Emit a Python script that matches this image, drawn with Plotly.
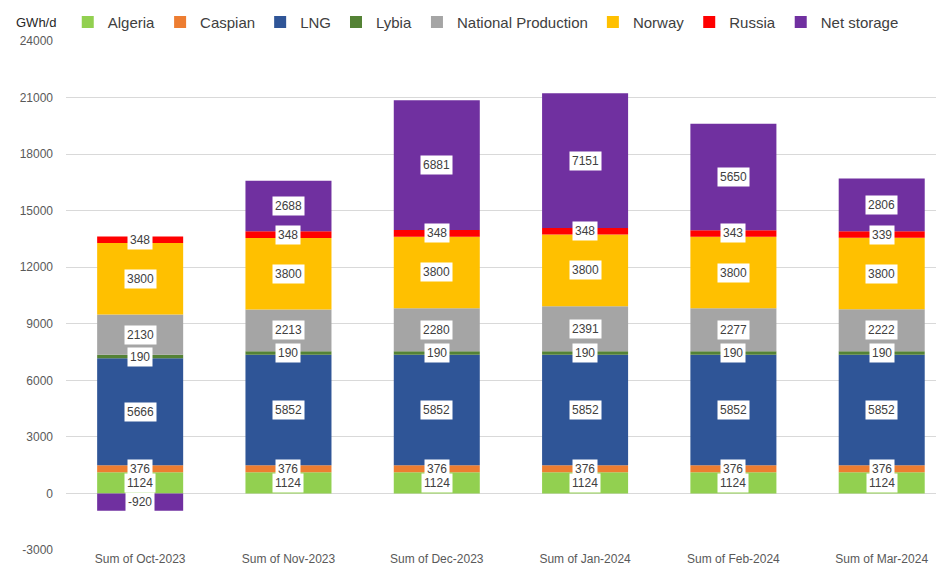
import plotly.graph_objects as go

# ── data ────────────────────────────────────────────────
months = ["Sum of Oct-2023", "Sum of Nov-2023", "Sum of Dec-2023",
          "Sum of Jan-2024", "Sum of Feb-2024", "Sum of Mar-2024"]

algeria = [1124, 1124, 1124, 1124, 1124, 1124]
caspian = [376, 376, 376, 376, 376, 376]
lng = [5666, 5852, 5852, 5852, 5852, 5852]
lybia = [190, 190, 190, 190, 190, 190]
national = [2130, 2213, 2280, 2391, 2277, 2222]
norway = [3800, 3800, 3800, 3800, 3800, 3800]
russia = [348, 348, 348, 348, 343, 339]
net_storage = [-920, 2688, 6881, 7151, 5650, 2806]

y_ticks = [-3000, 0, 3000, 6000, 9000, 12000, 15000, 18000, 21000, 24000]

series = [
    ("Algeria", algeria, "#92D050"),
    ("Caspian", caspian, "#ED7D31"),
    ("LNG", lng, "#2F5597"),
    ("Lybia", lybia, "#548235"),
    ("National Production", national, "#A5A5A5"),
    ("Norway", norway, "#FFC000"),
    ("Russia", russia, "#FF0000"),
    ("Net storage", net_storage, "#7030A0"),
]

FONT = "Liberation Sans, Arial, sans-serif"
TEXT = "#404040"
TICK = "#595959"

fig = go.Figure()
for name, vals, color in series:
    fig.add_trace(go.Bar(x=months, y=vals, name=name, marker=dict(color=color, line=dict(width=0))))

# white boxed value labels centred on each segment
labels = []
pos_base = [0] * len(months)
neg_base = [0] * len(months)
for name, vals, color in series:
    for i, v in enumerate(vals):
        if v >= 0:
            mid = pos_base[i] + v / 2
            pos_base[i] += v
        else:
            mid = neg_base[i] + v / 2
            neg_base[i] += v
        labels.append((months[i], mid, v))

# lower segments drawn last so their boxes sit on top
for x, mid, v in reversed(labels):
    fig.add_annotation(x=x, y=mid, xref="x", yref="y", text=str(v), showarrow=False,
                       bgcolor="white", borderpad=2, font=dict(family=FONT, size=12, color=TEXT))

fig.add_annotation(x=-0.034, y=1.037, xref="paper", yref="paper", text="GWh/d", showarrow=False,
                   xanchor="center", yanchor="middle",
                   font=dict(family=FONT, size=13, color="#262626"))

# page body has an 8px margin, so the figure is shifted by 8px
fig.update_layout(
    width=936, height=564,
    barmode="relative", bargap=0.42,
    margin=dict(l=58, r=0, t=33, b=22, autoexpand=False),
    paper_bgcolor="white", plot_bgcolor="white",
    font=dict(family=FONT, size=12, color=TEXT),
    legend=dict(orientation="h", x=0.002, xanchor="left", y=1.037, yanchor="middle",
                font=dict(size=15, color=TEXT), traceorder="normal", itemwidth=30),
)
fig.update_xaxes(range=[-0.5, 5.42], showgrid=False, ticks="", tickfont=dict(size=12, color=TICK))
fig.update_yaxes(range=[-3000, 24000], tickvals=y_ticks, ticktext=[str(v) for v in y_ticks],
                 showgrid=True, gridcolor="#D9D9D9", zeroline=True, zerolinecolor="#D9D9D9",
                 zerolinewidth=1, ticklabelstandoff=12, tickfont=dict(size=12, color=TICK))

fig.write_html("out.html")
